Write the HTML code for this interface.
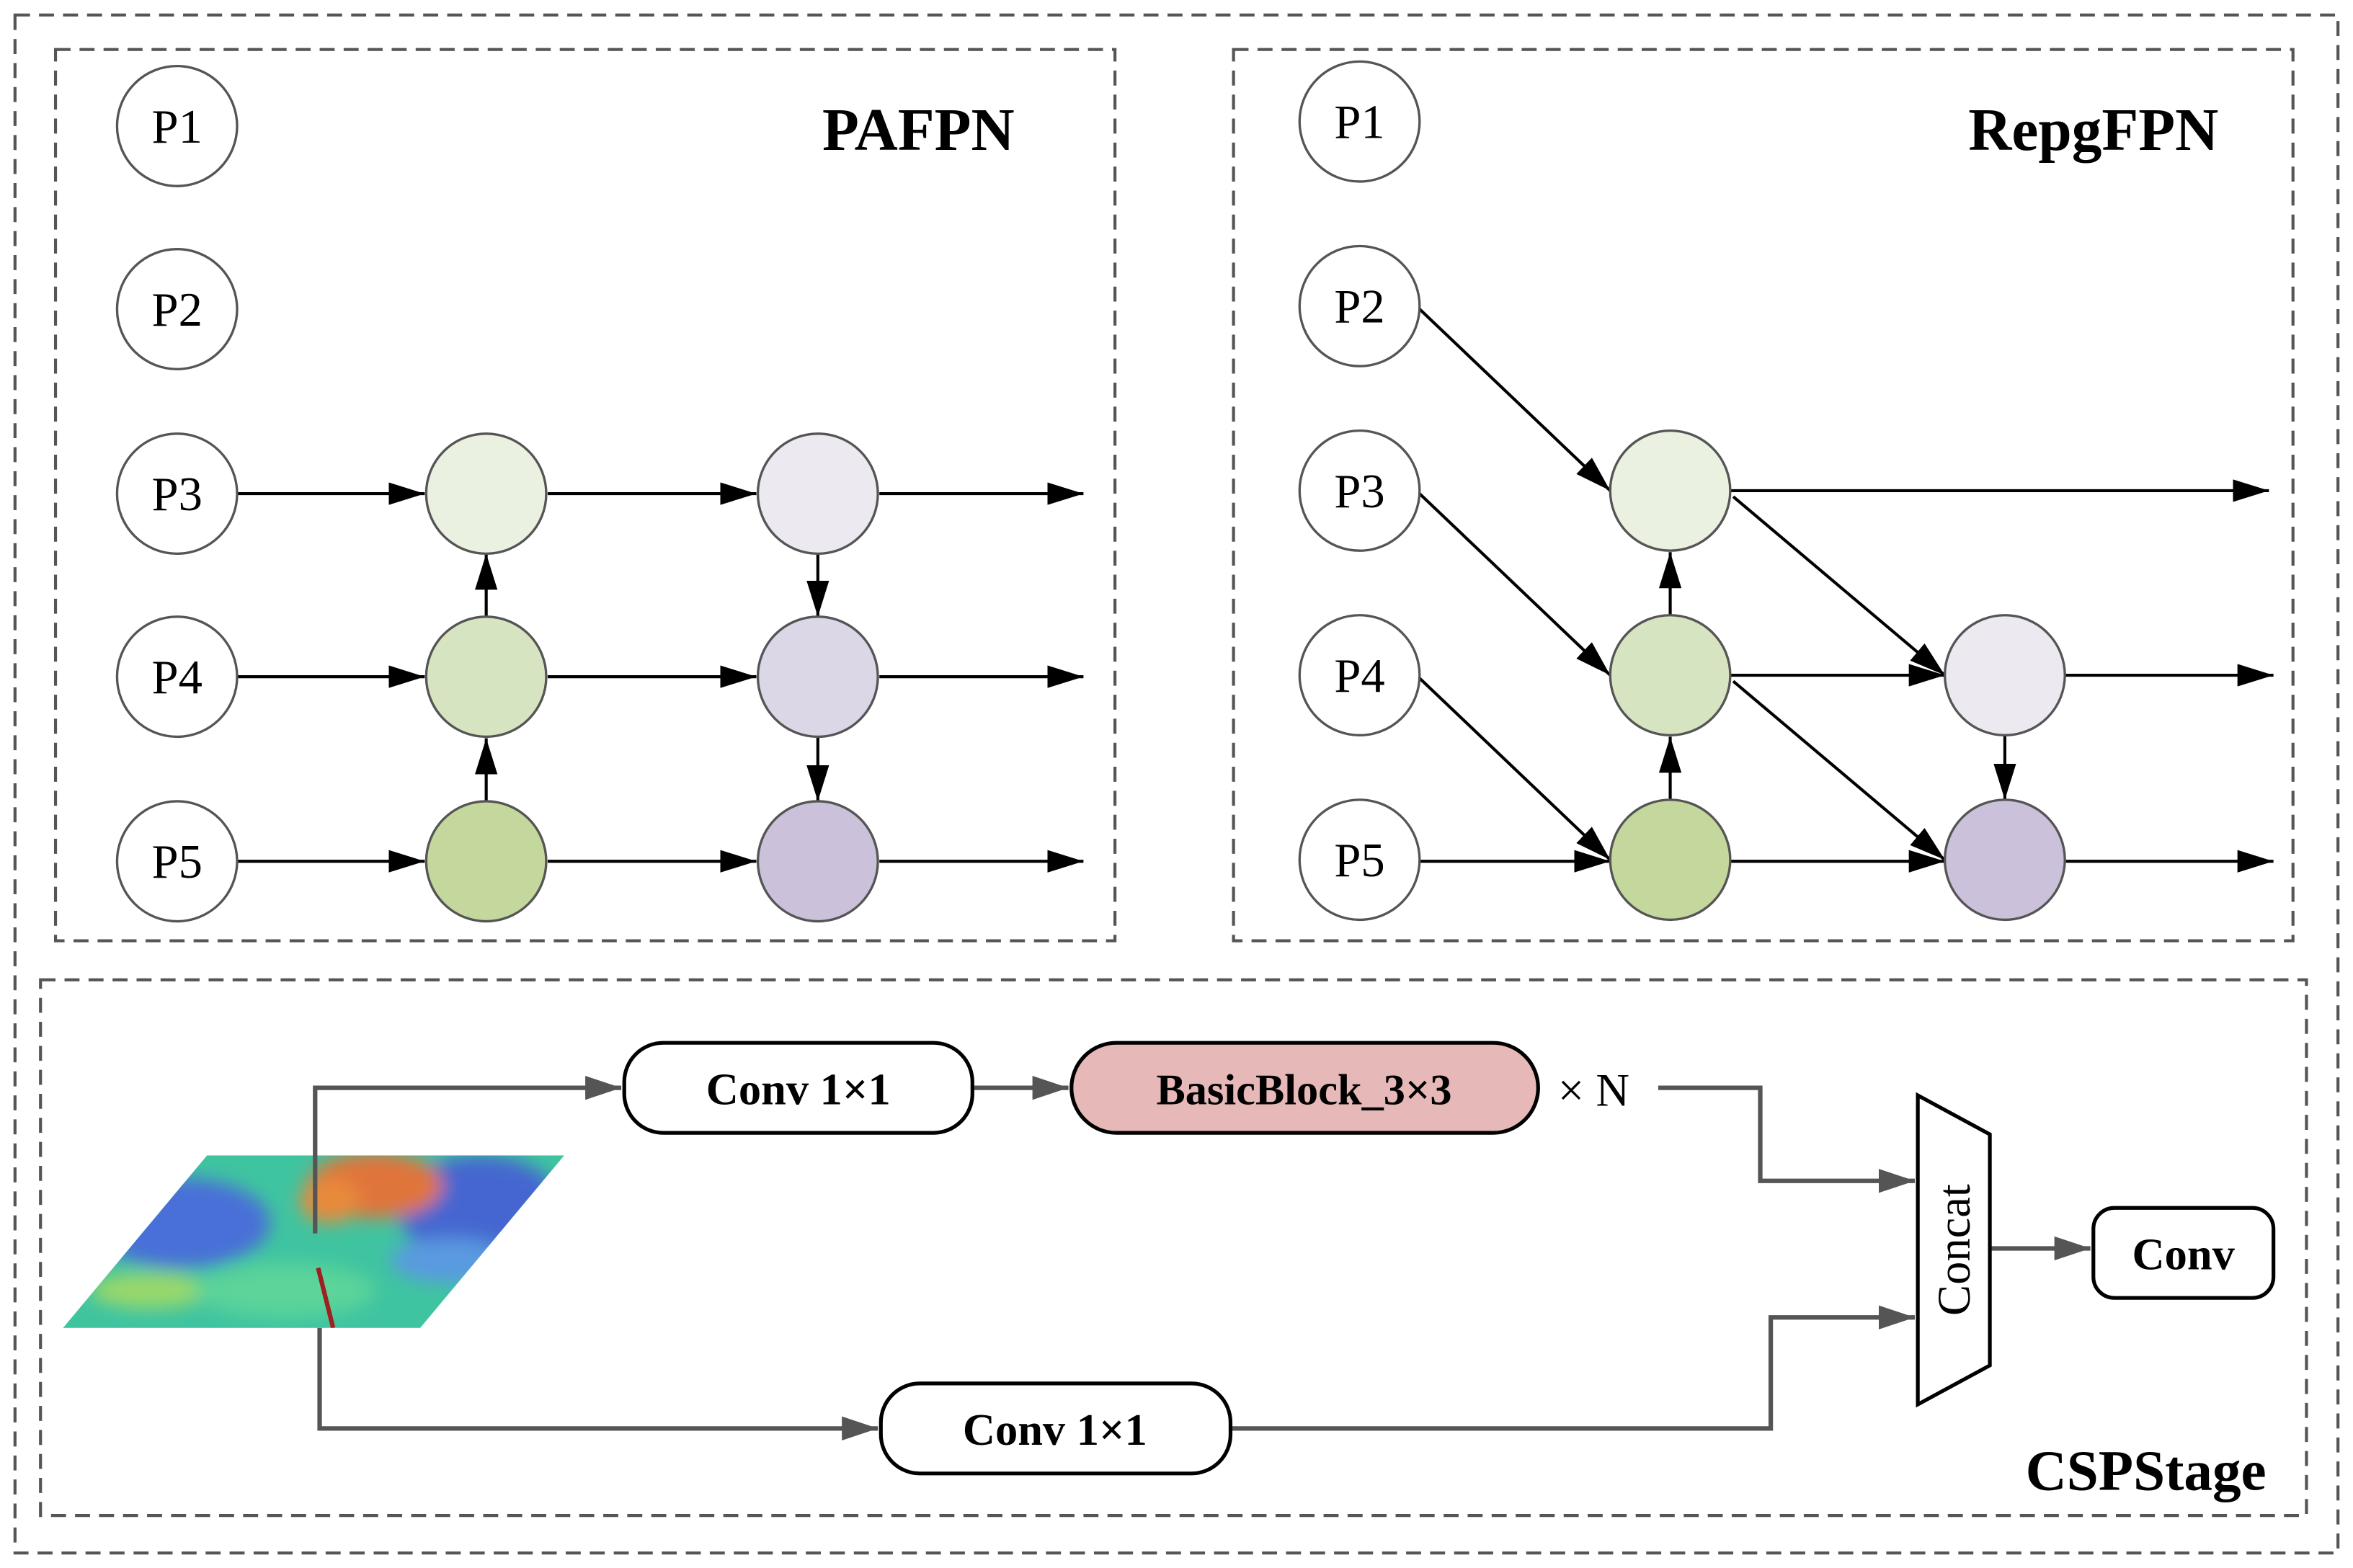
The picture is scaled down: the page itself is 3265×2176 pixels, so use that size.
<!DOCTYPE html>
<html><head><meta charset="utf-8"><style>html,body{margin:0;padding:0;background:#fff}svg{display:block}</style></head>
<body>
<svg width="3265" height="2176" viewBox="0 0 1568 1045" xmlns="http://www.w3.org/2000/svg" font-family="'Liberation Serif', serif">
<defs>
<marker id="ab" markerWidth="24" markerHeight="15" refX="24" refY="7.5" orient="auto" markerUnits="userSpaceOnUse" viewBox="0 0 24 15"><path d="M0,0 L24,7.5 L0,15z" fill="#000"/></marker>
<marker id="g" markerWidth="24" markerHeight="16" refX="24" refY="8" orient="auto" markerUnits="userSpaceOnUse" viewBox="0 0 24 16"><path d="M0,0 L24,8 L0,16z" fill="#555"/></marker>
<clipPath id="pg"><polygon points="138,770 376,770 280,885 42,885"/></clipPath>
<filter id="bl"><feGaussianBlur stdDeviation="6"/></filter>
</defs>
<g fill="none" stroke="#555" stroke-width="2" stroke-dasharray="10 6">
<rect x="10" y="10" width="1548" height="1025"/>
<rect x="37" y="33" width="706" height="594"/>
<rect x="822" y="33" width="706" height="594"/>
<rect x="27" y="653" width="1510" height="357"/>
</g>
<g font-size="40" font-weight="bold" text-anchor="middle"><text x="612" y="100">PAFPN</text><text x="1395" y="100">RepgFPN</text></g>
<g stroke="#000" stroke-width="2" marker-end="url(#ab)" fill="none">
<line x1="158" y1="329" x2="283" y2="329"/><line x1="158" y1="451" x2="283" y2="451"/><line x1="158" y1="574" x2="283" y2="574"/>
<line x1="365" y1="329" x2="504" y2="329"/><line x1="365" y1="451" x2="504" y2="451"/><line x1="365" y1="574" x2="504" y2="574"/>
<line x1="586" y1="329" x2="722" y2="329"/><line x1="586" y1="451" x2="722" y2="451"/><line x1="586" y1="574" x2="722" y2="574"/>
<line x1="324" y1="534" x2="324" y2="492"/><line x1="324" y1="411" x2="324" y2="369"/>
<line x1="545" y1="369" x2="545" y2="411"/><line x1="545" y1="491" x2="545" y2="534"/>
<line x1="946" y1="206" x2="1073" y2="327"/><line x1="946" y1="329" x2="1073" y2="450"/><line x1="946" y1="452" x2="1073" y2="573"/><line x1="946" y1="574" x2="1073" y2="574"/>
<line x1="1113" y1="533" x2="1113" y2="491"/><line x1="1113" y1="410" x2="1113" y2="368"/>
<line x1="1153" y1="327" x2="1512" y2="327"/><line x1="1155" y1="331" x2="1296" y2="450"/>
<line x1="1153" y1="450" x2="1296" y2="450"/><line x1="1155" y1="454" x2="1296" y2="573"/>
<line x1="1153" y1="574" x2="1296" y2="574"/>
<line x1="1336" y1="490" x2="1336" y2="533"/>
<line x1="1376" y1="450" x2="1515" y2="450"/><line x1="1376" y1="574" x2="1515" y2="574"/>
</g>
<g stroke="#555" stroke-width="1.6">
<circle cx="118" cy="84" r="40" fill="#fff"/><circle cx="118" cy="206" r="40" fill="#fff"/><circle cx="118" cy="329" r="40" fill="#fff"/><circle cx="118" cy="451" r="40" fill="#fff"/><circle cx="118" cy="574" r="40" fill="#fff"/>
<circle cx="324" cy="329" r="40" fill="#ebf1e0"/><circle cx="324" cy="451" r="40" fill="#d7e4c2"/><circle cx="324" cy="574" r="40" fill="#c4d79d"/>
<circle cx="545" cy="329" r="40" fill="#ece9f1"/><circle cx="545" cy="451" r="40" fill="#dcd7e7"/><circle cx="545" cy="574" r="40" fill="#cbc1da"/>
<circle cx="906" cy="81" r="40" fill="#fff"/><circle cx="906" cy="204" r="40" fill="#fff"/><circle cx="906" cy="327" r="40" fill="#fff"/><circle cx="906" cy="450" r="40" fill="#fff"/><circle cx="906" cy="573" r="40" fill="#fff"/>
<circle cx="1113" cy="327" r="40" fill="#ebf1e0"/><circle cx="1113" cy="450" r="40" fill="#d7e4c2"/><circle cx="1113" cy="573" r="40" fill="#c4d79d"/>
<circle cx="1336" cy="450" r="40" fill="#ece9f1"/><circle cx="1336" cy="573" r="40" fill="#cbc1da"/>
</g>
<g font-size="32" text-anchor="middle">
<text x="118" y="95">P1</text><text x="118" y="217">P2</text><text x="118" y="340">P3</text><text x="118" y="462">P4</text><text x="118" y="585">P5</text>
<text x="906" y="92">P1</text><text x="906" y="215">P2</text><text x="906" y="338">P3</text><text x="906" y="461">P4</text><text x="906" y="584">P5</text>
</g>
<g clip-path="url(#pg)">
<rect x="40" y="765" width="340" height="125" fill="#3fc4a0"/>
<g filter="url(#bl)">
<ellipse cx="120" cy="815" rx="60" ry="30" fill="#4a6fd8"/>
<ellipse cx="320" cy="805" rx="55" ry="35" fill="#4566d0"/>
<ellipse cx="250" cy="790" rx="45" ry="22" fill="#e0743a"/>
<ellipse cx="220" cy="800" rx="20" ry="15" fill="#e88a3a"/>
<ellipse cx="300" cy="840" rx="40" ry="15" fill="#5a9ae0"/>
<ellipse cx="100" cy="860" rx="40" ry="12" fill="#9ad86a"/>
<ellipse cx="190" cy="860" rx="60" ry="18" fill="#5bd49a"/>
</g>
<line x1="212" y1="845" x2="222" y2="885" stroke="#a02020" stroke-width="3"/>
</g>
<g stroke="#555" stroke-width="3" fill="none" marker-end="url(#g)">
<polyline points="210,822 210,725 414,725"/>
<line x1="648" y1="725" x2="712" y2="725"/>
<polyline points="1105,725 1173,725 1173,787 1276,787"/>
<polyline points="213,885 213,952 585,952"/>
<polyline points="820,952 1180,952 1180,878 1276,878"/>
<line x1="1326" y1="832" x2="1393" y2="832"/>
</g>
<g stroke="#000" stroke-width="2.5">
<rect x="416" y="695" width="232" height="60" rx="26" fill="#fff"/>
<rect x="714" y="695" width="311" height="60" rx="30" fill="#e6b8b7"/>
<rect x="587" y="922" width="233" height="60" rx="26" fill="#fff"/>
<rect x="1395" y="805" width="120" height="60" rx="14" fill="#fff"/>
<polygon points="1278,730 1326,756 1326,910 1278,936" fill="#fff"/>
</g>
<g font-size="30" font-weight="bold" text-anchor="middle">
<text x="532" y="736">Conv 1×1</text>
<text x="869" y="736" font-size="29">BasicBlock_3×3</text>
<text x="703" y="963">Conv 1×1</text>
<text x="1455" y="846">Conv</text>
</g>
<text x="1062" y="737" font-size="31" text-anchor="middle">× N</text>
<text x="1302" y="833" font-size="31" text-anchor="middle" dominant-baseline="central" transform="rotate(-90 1302 833)">Concat</text>
<text x="1430" y="993" font-size="38" font-weight="bold" text-anchor="middle">CSPStage</text>
</svg>
</body></html>
